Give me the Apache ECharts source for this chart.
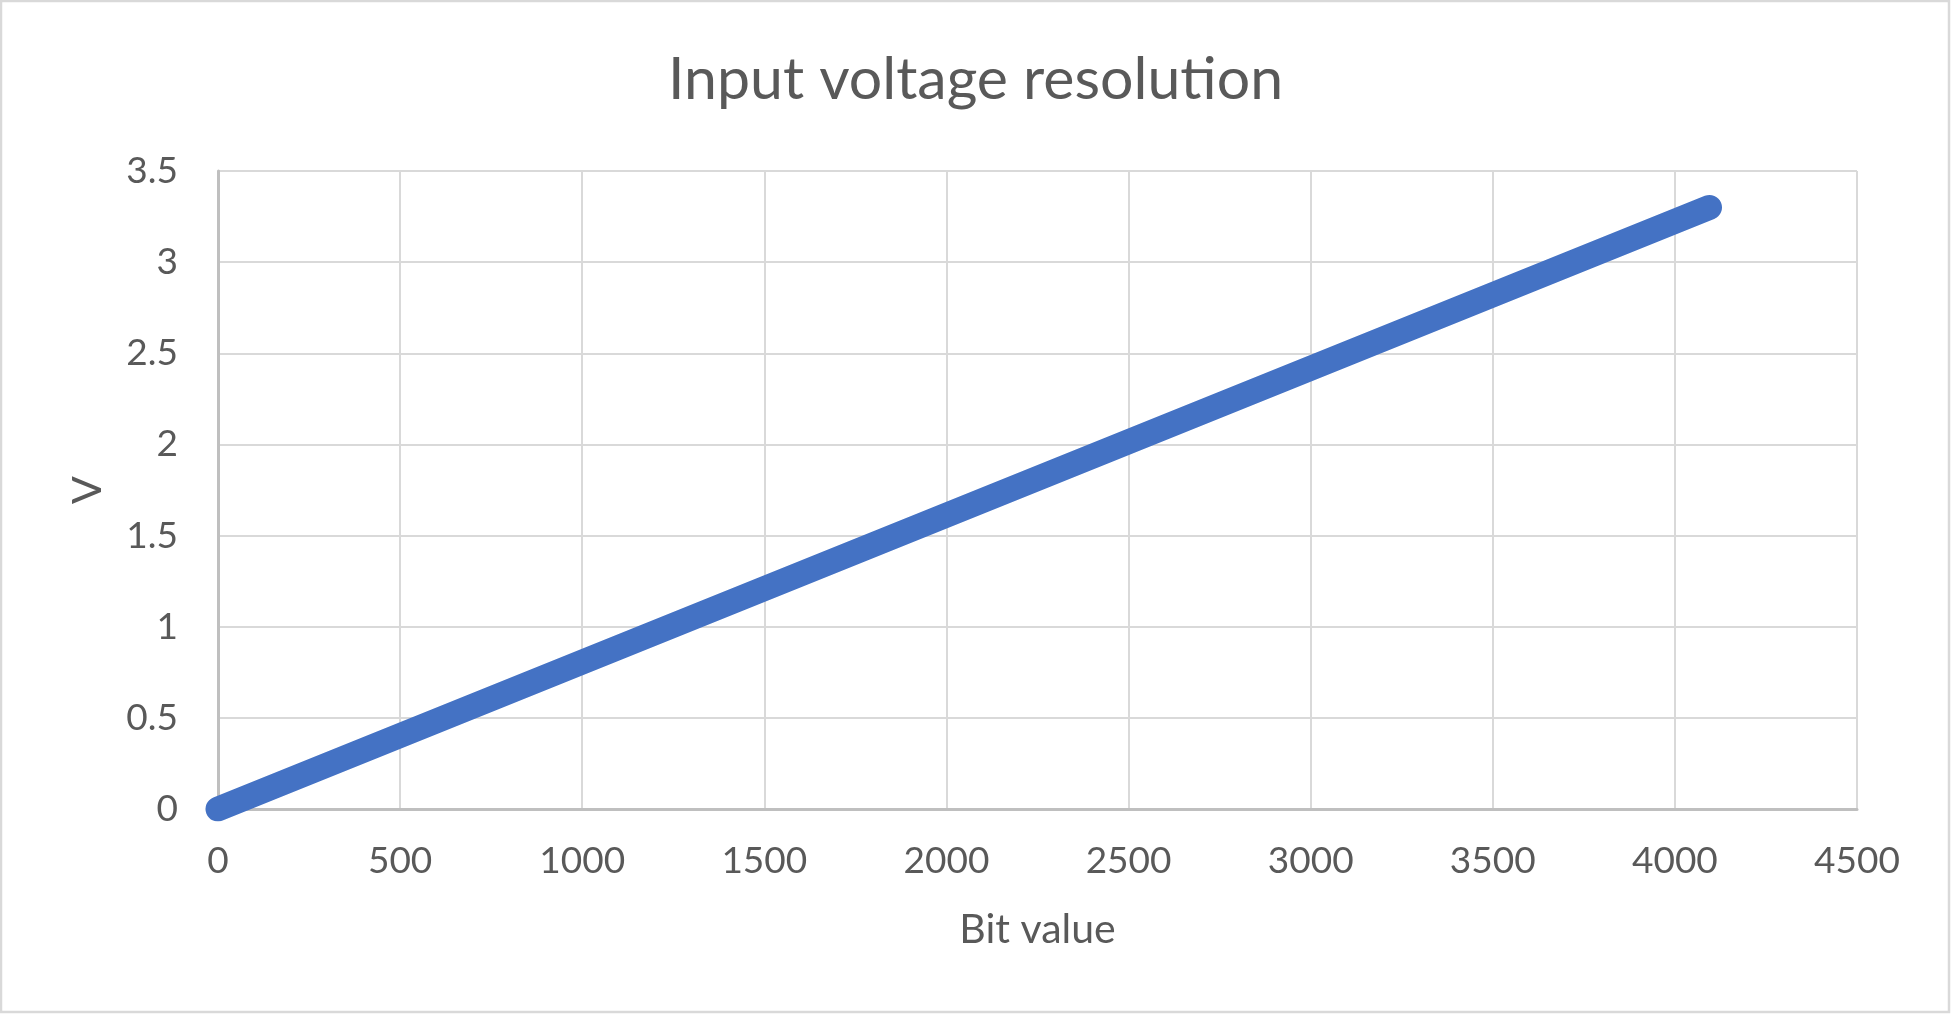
<!DOCTYPE html>
<html>
<head>
<meta charset="utf-8">
<script src="https://cdn.jsdelivr.net/npm/echarts@6/dist/echarts.min.js"></script>
<style>
  html, body { margin: 0; padding: 0; background: #ffffff; }
  #chart { width: 1951px; height: 1014px; }
</style>
</head>
<body>
<div id="chart"></div>
<script>
// Data: ADC bit value vs. voltage
const bitValues = [0, 4095];
const voltages = [0, 3.3];

const xTicks = { min: 0, max: 4500, interval: 500 };
const yTicks = { min: 0, max: 3.5, interval: 0.5 };

const titleText = 'Input voltage resolution';
const xAxisTitle = 'Bit value';
const yAxisTitle = 'V';

const points = bitValues.map((b, i) => [b, voltages[i]]);

const textColor = '#595959';
const fontFamily = 'Lato, "Open Sans", sans-serif';

const chart = echarts.init(document.getElementById('chart'), null, { renderer: 'canvas' });
chart.setOption({
  backgroundColor: '#ffffff',
  animation: false,
  title: {
    text: titleText,
    left: 'center',
    top: 45,
    textStyle: { color: textColor, fontFamily: fontFamily, fontSize: 59, fontWeight: 'normal' }
  },
  graphic: [{
    type: 'rect',
    shape: { x: 1, y: 1, width: 1948, height: 1011 },
    style: { fill: 'none', stroke: '#d9d9d9', lineWidth: 2.5 },
    silent: true
  }],
  grid: { left: 218, right: 94, top: 171, bottom: 205, containLabel: false },
  xAxis: {
    type: 'value',
    min: xTicks.min, max: xTicks.max, interval: xTicks.interval,
    name: xAxisTitle,
    nameLocation: 'middle',
    nameGap: 100,
    nameTextStyle: { color: textColor, fontFamily: fontFamily, fontSize: 41 },
    axisLine: { show: true, onZero: false, lineStyle: { color: '#bfbfbf', width: 3 } },
    axisTick: { show: false },
    axisLabel: { color: textColor, fontFamily: fontFamily, fontSize: 37, margin: 34,
      formatter: v => String(v) },
    splitLine: { show: true, lineStyle: { color: '#d9d9d9', width: 2 } }
  },
  yAxis: {
    type: 'value',
    min: yTicks.min, max: yTicks.max, interval: yTicks.interval,
    name: yAxisTitle,
    nameLocation: 'middle',
    nameGap: 110,
    nameRotate: 90,
    nameTextStyle: { color: textColor, fontFamily: fontFamily, fontSize: 41 },
    axisLine: { show: true, onZero: false, lineStyle: { color: '#bfbfbf', width: 3 } },
    axisTick: { show: false },
    axisLabel: { color: textColor, fontFamily: fontFamily, fontSize: 37, margin: 40,
      formatter: v => String(v) },
    splitLine: { show: true, lineStyle: { color: '#d9d9d9', width: 2 } }
  },
  series: [{
    type: 'line',
    data: points,
    showSymbol: false,
    symbol: 'none',
    lineStyle: { color: '#4472c4', width: 25, cap: 'round', join: 'round' },
    itemStyle: { color: '#4472c4' },
    z: 3
  }]
});
</script>
</body>
</html>
